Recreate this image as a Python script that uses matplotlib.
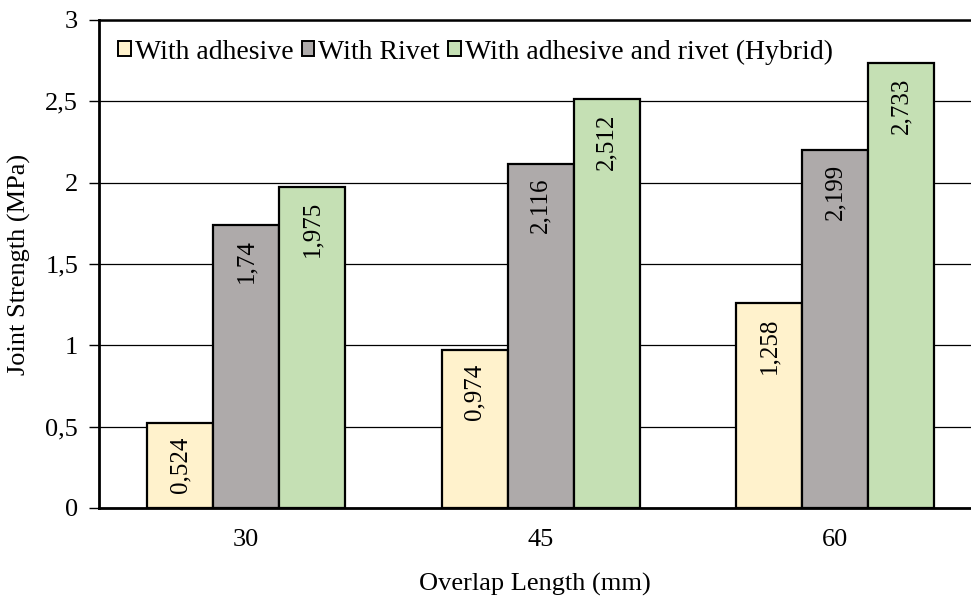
import numpy as np
import matplotlib.pyplot as plt

lengths = ['30', '45', '60']
series = ['With adhesive', 'With Rivet', 'With adhesive and rivet (Hybrid)']
adhesive = [0.524, 0.974, 1.258]
rivet = [1.74, 2.116, 2.199]
hybrid = [1.975, 2.512, 2.733]
colors = ['#FFF2CC', '#AEAAAA', '#C5E0B4']
yticks = [0, 0.5, 1, 1.5, 2, 2.5, 3]


def fmt(v):
    # comma decimal, as in the source figure
    return f'{v:g}'.replace('.', ',')


plt.rcParams['font.family'] = ['Liberation Serif', 'DejaVu Serif']
plt.rcParams['font.size'] = 19

fig = plt.figure(figsize=(9.71, 5.97), dpi=100)
ax = fig.add_axes([99 / 971, 89 / 597, 1 - 99 / 971, (508 - 20) / 597])

x = np.arange(len(lengths))
w = 0.224
for i, (name, vals) in enumerate(zip(series, [adhesive, rivet, hybrid])):
    pos = x + (i - 1) * w
    ax.bar(pos, vals, w, color=colors[i], edgecolor='black', linewidth=1.6,
           label=name, zorder=3)
    for p, v in zip(pos, vals):
        ax.annotate(fmt(v), (p, v), xytext=(0, -10), textcoords='offset points',
                    rotation=90, ha='center', va='top', fontsize=18, zorder=4)

ax.set_xlim(-0.5, 2.462)
ax.set_ylim(0, 3)
ax.set_xticks(x)
ax.set_xticklabels(lengths)
ax.set_yticks(yticks)
ax.set_yticklabels([fmt(t) for t in yticks])
ax.tick_params(axis='x', length=0, pad=15, labelsize=19)
ax.tick_params(axis='y', length=7, width=1, direction='out', pad=8, labelsize=19)

ax.grid(axis='y', color='black', linewidth=0.9, zorder=0)
for s in ['left', 'bottom']:
    ax.spines[s].set_linewidth(2)
ax.spines['top'].set_linewidth(1.8)
ax.spines['right'].set_visible(False)

ax.set_xlabel('Overlap Length (mm)', labelpad=16, fontsize=19)
ax.set_ylabel('Joint Strength (MPa)', labelpad=10, fontsize=19)

leg = ax.legend(loc='upper left', ncol=3, frameon=False, handlelength=0.45,
                handleheight=0.45, handletextpad=0.14, columnspacing=0.3,
                bbox_to_anchor=(0.0, 1.0), borderaxespad=0.3, fontsize=20)
for h in leg.legend_handles:
    h.set_linewidth(1.4)

fig.savefig('out.png', dpi=100)
